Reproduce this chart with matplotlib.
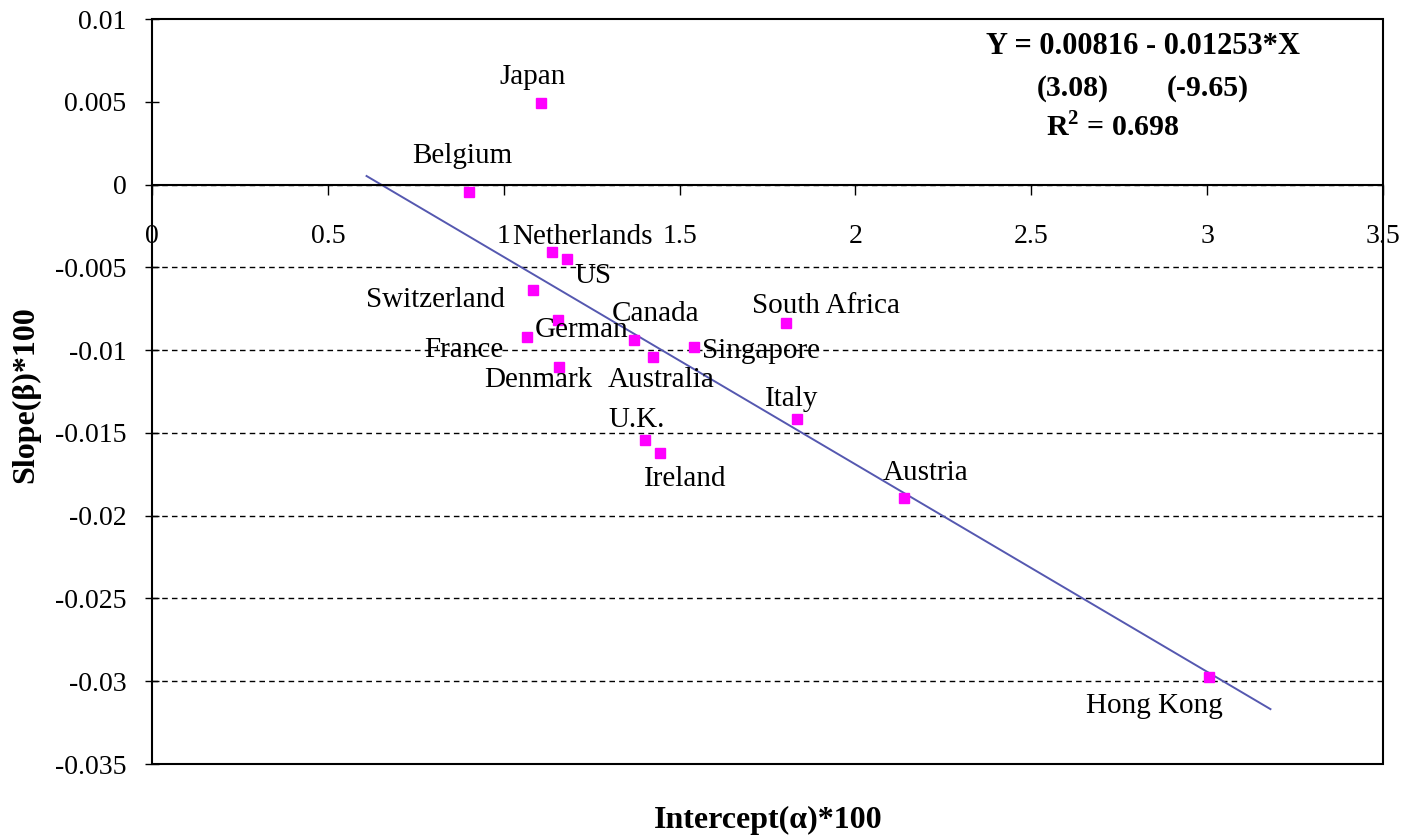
import numpy as np
import matplotlib
matplotlib.use("Agg")
import matplotlib.pyplot as plt
from matplotlib.patches import Rectangle

plt.rcParams['font.family'] = ['Liberation Serif', 'DejaVu Serif']
plt.rcParams['mathtext.fontset'] = 'custom'
plt.rcParams['mathtext.rm'] = 'Liberation Serif'
plt.rcParams['mathtext.bf'] = 'Liberation Serif:bold'

countries = ["Japan", "Belgium", "Netherlands", "US", "Switzerland", "German",
             "France", "Canada", "Australia", "Singapore", "Denmark",
             "South Africa", "Italy", "U.K.", "Ireland", "Austria", "Hong Kong"]
intercept = [1.107, 0.900, 1.137, 1.179, 1.084, 1.155, 1.066, 1.371, 1.425,
             1.542, 1.156, 1.802, 1.833, 1.402, 1.444, 2.138, 3.005]
slope = [0.00491, -0.00047, -0.00408, -0.00448, -0.00636, -0.00818, -0.00923,
         -0.00939, -0.01044, -0.00980, -0.01105, -0.00838, -0.01416, -0.01545,
         -0.01622, -0.01891, -0.02974]
# label offsets in pixels (dx right, dy up)
offsets = [(-9, 26), (-6, 36), (31, 15), (26, -17), (-98, -10), (23, -10),
           (-63, -13), (21, 26), (8, -23), (67, -4), (-20, -13), (40, 17),
           (-5, 20), (-8, 20), (25, -26), (22, 25), (-55, -29)]

fit_a, fit_b = 0.00816, -0.01253
fit_x = [0.61, 3.18]

fig = plt.figure(figsize=(14.03, 8.38), dpi=100)
ax = fig.add_axes([152/1403, 1-764/838, 1231/1403, 745/838])

ax.set_xlim(0, 3.5)
ax.set_ylim(-0.035, 0.01)

fx = np.array(fit_x)
ax.plot(fx, fit_a + fit_b*fx, color="#5558b0", lw=1.4, zorder=2)
ax.plot(intercept, slope, 's', color="#ff00ff", ms=7, zorder=3, ls="none")

for name, x, y, (dx, dy) in zip(countries, intercept, slope, offsets):
    ax.annotate(name, (x, y), xytext=(dx*0.72, dy*0.72), textcoords="offset points",
                ha="center", va="center", fontsize=21)

yt = np.arange(-0.035, 0.0101, 0.005)
ax.set_yticks(yt)
ax.set_yticklabels(["-0.035", "-0.03", "-0.025", "-0.02", "-0.015", "-0.01",
                    "-0.005", "0", "0.005", "0.01"])
ax.set_xticks([0, 0.5, 1, 1.5, 2, 2.5, 3, 3.5])
ax.set_xticklabels(["0", "0.5", "1", "1.5", "2", "2.5", "3", "3.5"])
ax.tick_params(axis="y", direction="inout", length=10, width=1, pad=13.5, labelsize=20)
ax.tick_params(axis="x", direction="out", length=7, width=1, pad=21.5, labelsize=20)

for v in yt[1:-2]:
    ax.axhline(v, color="black", lw=1, ls=(0, (4, 3)), zorder=1)

for s in ["top", "right", "left"]:
    ax.spines[s].set_visible(False)
ax.spines["bottom"].set_position(("data", 0))
ax.spines["bottom"].set_linewidth(1.5)
ax.add_patch(Rectangle((0, 0), 1, 1, transform=ax.transAxes, fill=False,
                       ec="black", lw=1.5, clip_on=False, zorder=4))

fig.text(768/1403, 1-820/838, "Intercept(\u03b1)*100", ha="center", va="center",
         fontsize=23, fontweight="bold")
fig.text(26/1403, 1-395/838, "Slope(\u03b2)*100", ha="center", va="center",
         fontsize=23, fontweight="bold", rotation=90)

fig.text(1143/1403, 1-46/838, "Y = 0.00816 - 0.01253*X", ha="center", va="center",
         fontsize=22, fontweight="bold")
fig.text(1073/1403, 1-88/838, "(3.08)", ha="center", va="center",
         fontsize=21.5, fontweight="bold")
fig.text(1208/1403, 1-88/838, "(-9.65)", ha="center", va="center",
         fontsize=21.5, fontweight="bold")
fig.text(1113/1403, 1-127/838, "R$^{\\mathbf{2}}$ = 0.698", ha="center", va="center",
         fontsize=21.5, fontweight="bold")

fig.savefig("out.png", dpi=100, facecolor="white")
